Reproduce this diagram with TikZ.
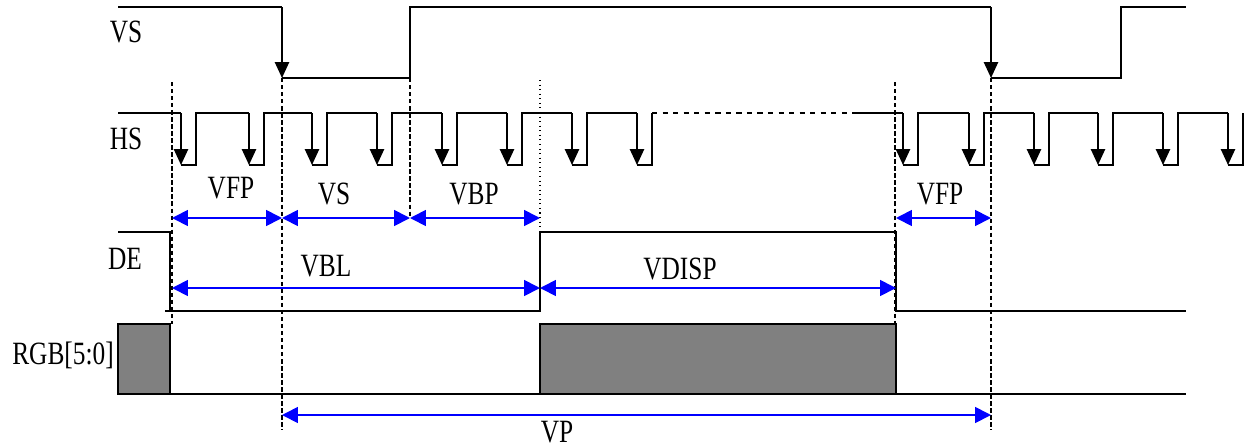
\documentclass[tikz,border=0pt]{standalone}
\usepackage{fontspec}
\setmainfont{Liberation Serif}[FakeStretch=0.78]
\usetikzlibrary{arrows.meta}
\tikzset{
  sig/.style={line width=1.1pt},
  edge/.style={sig, -{Triangle[length=9pt,width=8pt]}},
  guide/.style={line width=0.6pt, dash pattern=on 2.5pt off 1.5pt},
  dim/.style={blue, line width=1pt, {Triangle[length=9pt,width=9pt]}-{Triangle[length=9pt,width=9pt]}},
  lbl/.style={font=\fontsize{18.5}{22}\selectfont, inner sep=0pt}
}
\begin{document}
\begin{tikzpicture}[x=0.02cm, y=-0.02cm]
    \useasboundingbox (0,0) rectangle (1248,447);
    % signal names
    \node[lbl] (vs) at (126,32) {VS};
    \node[lbl] (hs) at (126,139) {HS};
    \node[lbl] (de) at (125,259) {DE};
    \node[lbl] (rgb) at (63,355) {RGB[5:0]};
    % VS
    \draw [sig] (118,7) -- (282,7);
    \draw [edge] (282,7) -- (282,78);
    \draw [sig] (282,78) -- (410,78) -- (410,7) -- (991,7);
    \draw [edge] (991,7) -- (991,78);
    \draw [sig] (991,78) -- (1121,78) -- (1121,7) -- (1186,7);
    % HS
    \draw [sig] (118,113) -- (181,113);
    \foreach \f/\n in {181/249, 249/312, 312/377, 377/442, 442/507, 507/572, 572/637} {
        \draw [edge] (\f,113) -- (\f,165);
        \draw [sig] (\f,165) -- (\f+15,165) -- (\f+15,113) -- (\n,113);
    }
    \draw [edge] (637,113) -- (637,165);
    \draw [sig] (637,165) -- (652,165) -- (652,113);
    \draw [sig, dashed] (652,113) -- (857,113);
    \draw [sig] (857,113) -- (903,113);
    \foreach \f/\n in {903/969, 969/1034, 1034/1098, 1098/1163, 1163/1228} {
        \draw [edge] (\f,113) -- (\f,165);
        \draw [sig] (\f,165) -- (\f+15,165) -- (\f+15,113) -- (\n,113);
    }
    \draw [edge] (1228,113) -- (1228,165);
    \draw [sig] (1228,165) -- (1243,165) -- (1243,113);
    % DE
    \draw [sig] (118,232) -- (170,232) -- (170,311);
    \draw [sig] (165,311) -- (540,311) -- (540,232) -- (896,232) -- (896,311) -- (1186,311);
    % RGB
    \draw [sig, fill=gray] (118,324) rectangle (170,394);
    \draw [sig, fill=gray] (540,324) rectangle (896,394);
    \draw [sig] (118,394) -- (1186,394);
    % guide lines
    \draw [guide] (172,82) -- (172,324);
    \draw [guide] (282,78) -- (282,430);
    \draw [guide] (410,78) -- (410,217);
    \draw [line width=0.6pt, dotted] (540,80) -- (540,232);
    \draw [guide] (895,82) -- (895,324);
    \draw [guide] (991,78) -- (991,430);
    % timing intervals
    \draw [dim] (172,218) -- (282,218);
    \node[lbl] (vfp) at (231,188) {VFP};
    \draw [dim] (282,218) -- (410,218);
    \node[lbl] (vsw) at (334,194) {VS};
    \draw [dim] (410,218) -- (540,218);
    \node[lbl] (vbp) at (474,194) {VBP};
    \draw [dim] (172,288) -- (540,288);
    \node[lbl] (vbl) at (326,266) {VBL};
    \draw [dim] (540,288) -- (896,288);
    \node[lbl] (vdisp) at (680,269) {VDISP};
    \draw [dim] (896,218) -- (991,218);
    \node[lbl] (vfp2) at (940,194) {VFP};
    \draw [dim] (282,415) -- (991,415);
    \node[lbl] (vp) at (557,432) {VP};
\end{tikzpicture}
\end{document}
